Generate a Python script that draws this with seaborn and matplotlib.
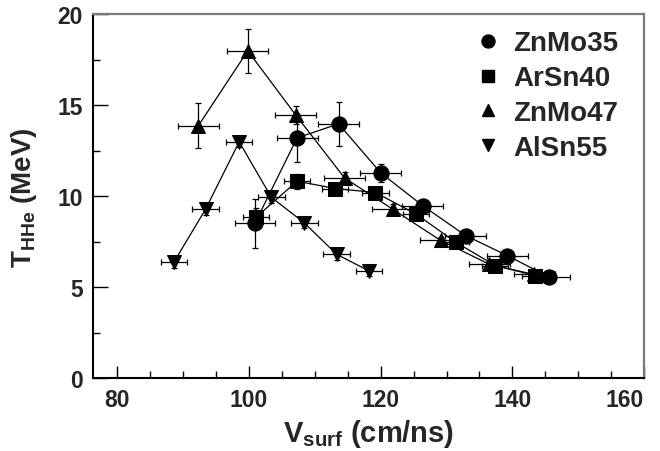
import matplotlib
matplotlib.use("Agg")
import matplotlib.pyplot as plt
from matplotlib.lines import Line2D
from matplotlib.ticker import MultipleLocator
import seaborn as sns
import pandas as pd

# ZnMo35 (circles)
znmo35_v = [100.9, 107.3, 113.6, 120.0, 126.4, 132.9, 139.2, 145.6]
znmo35_t = [8.52, 13.2, 13.97, 11.28, 9.47, 7.84, 6.74, 5.56]
znmo35_terr = [1.35, 1.3, 1.2, 0.5, 0.3, 0.3, 0.3, 0.2]
znmo35_verr = [3.1] * 8

# ArSn40 (squares)
arsn40_v = [101.1, 107.3, 113.1, 119.2, 125.4, 131.4, 137.4, 143.5]
arsn40_t = [8.86, 10.82, 10.42, 10.2, 9.01, 7.47, 6.19, 5.64]
arsn40_terr = [0.5, 0.4, 0.3, 0.3, 0.3, 0.2, 0.2, 0.2]
arsn40_verr = [2.0] * 8

# ZnMo47 (triangles)
znmo47_v = [92.3, 99.8, 107.1, 114.5, 121.8, 129.1, 136.5, 143.3]
znmo47_t = [13.87, 17.98, 14.45, 11.0, 9.29, 7.57, 6.26, 5.7]
znmo47_terr = [1.24, 1.2, 0.5, 0.3, 0.3, 0.2, 0.2, 0.2]
znmo47_verr = [3.1] * 8

# AlSn55 (inverted triangles)
alsn55_v = [88.55, 93.4, 98.5, 103.4, 108.4, 113.3, 118.2]
alsn55_t = [6.36, 9.29, 12.98, 9.93, 8.53, 6.81, 5.9]
alsn55_terr = [0.3] * 7
alsn55_verr = [2.0] * 7

sns.set_theme(style="ticks")
plt.rcParams["font.family"] = ["Liberation Sans", "DejaVu Sans"]
plt.rcParams["font.weight"] = "bold"
plt.rcParams["mathtext.fontset"] = "custom"
plt.rcParams["mathtext.rm"] = "Liberation Sans:bold"
plt.rcParams["mathtext.bf"] = "Liberation Sans:bold"
plt.rcParams["mathtext.it"] = "Liberation Sans:bold"

series = [
    ("ZnMo35", znmo35_v, znmo35_t, znmo35_verr, znmo35_terr, "o", 11),
    ("ArSn40", arsn40_v, arsn40_t, arsn40_verr, arsn40_terr, "s", 9.5),
    ("ZnMo47", znmo47_v, znmo47_t, znmo47_verr, znmo47_terr, "^", 10.5),
    ("AlSn55", alsn55_v, alsn55_t, alsn55_verr, alsn55_terr, "v", 10.5),
]

fig = plt.figure(figsize=(6.6, 4.52), dpi=100)
ax = fig.add_axes([0.1405, 0.1608, 0.8353, 0.806])

handles = []
for name, v, t, verr, terr, mk, ms in series:
    df = pd.DataFrame({"v": v, "t": t})
    ax.errorbar(df["v"], df["t"], xerr=verr, yerr=terr, fmt="none",
                ecolor="black", elinewidth=0.9, capsize=2.5, capthick=0.9,
                zorder=2)
    sns.lineplot(data=df, x="v", y="t", ax=ax, color="black", linewidth=0.9,
                 marker=mk, markersize=ms, markeredgecolor="black",
                 markerfacecolor="black", sort=False, zorder=3)
    handles.append(Line2D([], [], linestyle="none", marker=mk, color="black",
                          markersize=ms * 0.85, label=name))

ax.set_xlim(76.25, 160)
ax.set_ylim(0, 20)
ax.xaxis.set_major_locator(MultipleLocator(20))
ax.xaxis.set_minor_locator(MultipleLocator(5))
ax.yaxis.set_major_locator(MultipleLocator(5))
ax.yaxis.set_minor_locator(MultipleLocator(2.5))

ax.tick_params(axis="both", which="both", direction="in", color="black",
               width=1.0, labelsize=16.5)
ax.tick_params(axis="y", which="major", length=11, pad=7)
ax.tick_params(axis="y", which="minor", length=5)
ax.tick_params(axis="x", which="major", length=8.5, pad=7)
ax.tick_params(axis="x", which="minor", length=5)

for side in ["left", "bottom"]:
    ax.spines[side].set_color("black")
    ax.spines[side].set_linewidth(1.5)
for side in ["top", "right"]:
    ax.spines[side].set_visible(True)
    ax.spines[side].set_color("#7a7a7a")
    ax.spines[side].set_linewidth(1.6)

ax.set_xlabel(r"$\mathbf{V_{surf}}$ (cm/ns)", fontsize=21, fontweight="bold",
              labelpad=4)
ax.set_ylabel(r"$\mathbf{T_{HHe}}$ (MeV)", fontsize=20, fontweight="bold",
              labelpad=13)

ax.legend(handles=handles, loc="upper left", bbox_to_anchor=(0.692, 0.955),
          frameon=False, labelspacing=0.32, handlelength=1.0,
          handletextpad=0.39, borderpad=0, borderaxespad=0,
          prop={"weight": "bold", "size": 20})

# keep the last x label inside the figure, like the reference
fig.canvas.draw()
for tick in ax.xaxis.get_major_ticks():
    tick.label1.set_fontweight("bold")
    if tick.label1.get_text() == "160":
        tick.label1.set_horizontalalignment("right")
        tick.label1.set_x(tick.label1.get_position()[0])
for lbl in ax.get_yticklabels():
    lbl.set_fontweight("bold")

fig.savefig("out.png", dpi=100)
